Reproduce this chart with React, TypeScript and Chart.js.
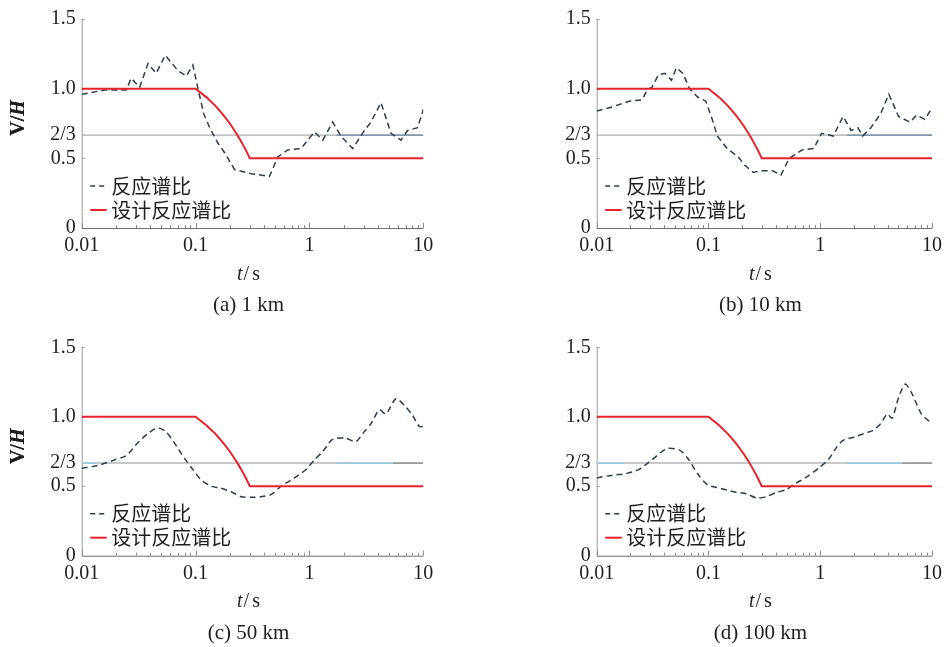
import React, { useEffect, useRef } from 'react';
import { Chart, registerables } from 'chart.js';

Chart.register(...registerables);

// ---------- data ----------
const xMajorTicks = [0.01, 0.1, 1, 10];
const xTickLabels = ['0.01', '0.1', '1', '10'];
const xMinorTicks = [0.02, 0.03, 0.04, 0.05, 0.06, 0.07, 0.08, 0.09, 0.2, 0.3, 0.4, 0.5, 0.6, 0.7, 0.8, 0.9, 2, 3, 4, 5, 6, 7, 8, 9];
const yTickValues = [0, 0.5, 2 / 3, 1.0, 1.5];
const yTickLabels = ['0', '0.5', '2/3', '1.0', '1.5'];
const legendLabels = ['反应谱比', '设计反应谱比'];
const captions = ['(a) 1 km', '(b) 10 km', '(c) 50 km', '(d) 100 km'];
const refValue = 2 / 3;

const designT = [0.01, 0.1, 0.125, 0.15, 0.175, 0.2, 0.225, 0.25, 0.275, 0.3, 10];
const designV = [1, 1, 0.9375, 0.875, 0.8125, 0.75, 0.6875, 0.625, 0.5625, 0.5, 0.5];

const periodsA = [0.01, 0.0159, 0.0246, 0.0272, 0.0323, 0.0382, 0.0451, 0.0541, 0.07, 0.0828, 0.0947, 0.105, 0.118, 0.133, 0.157, 0.18, 0.22, 0.308, 0.446, 0.527, 0.645, 0.844, 0.966, 1.107, 1.31, 1.6, 1.89, 2.4, 3.04, 3.47, 4.25, 5.2, 6.37, 7.28, 8.9, 10];
const ratioA = [0.96, 0.99, 0.99, 1.075, 1.01, 1.18, 1.11, 1.24, 1.13, 1.09, 1.17, 1.0, 0.82, 0.72, 0.61, 0.54, 0.42, 0.39, 0.37, 0.51, 0.56, 0.57, 0.63, 0.69, 0.63, 0.76, 0.66, 0.57, 0.7, 0.76, 0.9, 0.68, 0.63, 0.7, 0.72, 0.85];

const periodsB = [0.01, 0.0139, 0.0195, 0.0255, 0.0282, 0.0312, 0.0357, 0.0408, 0.0467, 0.0517, 0.0591, 0.0676, 0.08, 0.0947, 0.108, 0.12, 0.147, 0.185, 0.212, 0.251, 0.308, 0.376, 0.446, 0.527, 0.69, 0.874, 1.03, 1.31, 1.6, 1.89, 2.17, 2.4, 2.84, 3.47, 4.11, 5.03, 6.37, 7.28, 8.6, 10];
const ratioB = [0.84, 0.87, 0.91, 0.92, 0.99, 1.01, 1.1, 1.11, 1.06, 1.15, 1.11, 1.0, 0.94, 0.91, 0.78, 0.66, 0.57, 0.51, 0.45, 0.4, 0.41, 0.41, 0.38, 0.5, 0.56, 0.57, 0.68, 0.66, 0.8, 0.7, 0.72, 0.66, 0.72, 0.82, 0.96, 0.8, 0.76, 0.81, 0.78, 0.86];

const periodsC = [0.01, 0.0139, 0.0195, 0.0246, 0.0301, 0.0382, 0.0467, 0.0552, 0.0654, 0.08, 0.0947, 0.112, 0.137, 0.168, 0.205, 0.251, 0.308, 0.376, 0.46, 0.564, 0.738, 0.933, 1.107, 1.31, 1.55, 1.71, 2.09, 2.56, 2.94, 3.47, 4.11, 4.7, 5.75, 7.03, 8.05, 9.22, 10];
const ratioC = [0.63, 0.65, 0.69, 0.72, 0.8, 0.88, 0.92, 0.89, 0.81, 0.7, 0.62, 0.545, 0.5, 0.485, 0.46, 0.425, 0.42, 0.425, 0.44, 0.5, 0.56, 0.62, 0.69, 0.75, 0.83, 0.845, 0.845, 0.82, 0.88, 0.95, 1.05, 1.02, 1.13, 1.07, 1.01, 0.93, 0.93];

const periodsD = [0.01, 0.0139, 0.0182, 0.0238, 0.0312, 0.0422, 0.0552, 0.0654, 0.08, 0.098, 0.128, 0.168, 0.22, 0.269, 0.33, 0.403, 0.493, 0.604, 0.764, 0.966, 1.18, 1.4, 1.6, 2.03, 2.48, 2.94, 3.47, 3.97, 4.4, 5.03, 5.75, 6.58, 8.05, 10];
const ratioD = [0.56, 0.58, 0.59, 0.62, 0.69, 0.77, 0.76, 0.7, 0.59, 0.51, 0.485, 0.46, 0.445, 0.415, 0.425, 0.455, 0.475, 0.52, 0.57, 0.63, 0.69, 0.78, 0.83, 0.855, 0.88, 0.9, 0.95, 1.02, 0.99, 1.14, 1.235, 1.17, 1.02, 0.95];

// segments of the 2/3 reference line drawn in other colours [from, to]
const segRangesAB = [[1.73, 10]];
const segRangesC = [[0.01, 0.0135], [1.73, 5.4], [5.4, 10]];
const segRangesD = [[0.01, 0.0178], [1.73, 5.4], [5.4, 10]];

// ---------- layout / style ----------
const W = 948;
const H = 647;
const Y_AXIS_W = 80;
const X_AXIS_H = 90;
const SERIF = '"Liberation Serif", "Times New Roman", serif';
const CJK = '"Noto Sans CJK SC", sans-serif';
const TEXT = '#1e1e1e';
const RED = '#e8232b';
const DASH = '#2d3d50';

const panels = [
  { T: periodsA, V: ratioA, cap: captions[0], rect: [81.7, 423.3, 19, 228], tension: 0, segs: segRangesAB, segColors: ['#6f8aa6'], refColor: '#ababab', refW: 1.2 },
  { T: periodsB, V: ratioB, cap: captions[1], rect: [596.7, 938, 19, 228], tension: 0, segs: segRangesAB, segColors: ['#6f8aa6'], refColor: '#ababab', refW: 1.2 },
  { T: periodsC, V: ratioC, cap: captions[2], rect: [81.7, 423.3, 347.3, 555.7], tension: 0.25, segs: segRangesC, segColors: ['#8fcbe6', '#8fcbe6', '#8d8d8d'], refColor: '#c8c8c8', refW: 2 },
  { T: periodsD, V: ratioD, cap: captions[3], rect: [596.7, 938, 347.3, 555.7], tension: 0.25, segs: segRangesD, segColors: ['#8fcbe6', '#8fcbe6', '#8d8d8d'], refColor: '#c8c8c8', refW: 2 },
];

function drawPieces(ctx: CanvasRenderingContext2D, pieces: { t: string; f: string; gap?: number }[], cx: number, cy: number) {
  let total = 0;
  const widths = pieces.map((p) => {
    ctx.font = p.f;
    const w = ctx.measureText(p.t).width;
    total += w + (p.gap || 0);
    return w;
  });
  let x = cx - total / 2;
  pieces.forEach((p, i) => {
    ctx.font = p.f;
    ctx.fillText(p.t, x, cy);
    x += widths[i] + (p.gap || 0);
  });
}

function makeDecor(cap: string) {
  return {
    id: 'decor',
    beforeDatasetsDraw(chart: any) {
      const ctx = chart.ctx as CanvasRenderingContext2D;
      const ca = chart.chartArea;
      const xs = chart.scales.x;
      const ys = chart.scales.y;
      ctx.save();
      ctx.lineWidth = 1;
      // left axis
      ctx.strokeStyle = '#9a9a9a';
      ctx.beginPath();
      ctx.moveTo(ca.left + 0.5, ca.top);
      ctx.lineTo(ca.left + 0.5, ca.bottom);
      ctx.stroke();
      // y ticks
      [0.5, 1.0, 1.5].forEach((v) => {
        const y = Math.round(ys.getPixelForValue(v)) + 0.5;
        ctx.beginPath();
        ctx.moveTo(ca.left, y);
        ctx.lineTo(ca.left + 3, y);
        ctx.stroke();
      });
      // bottom axis
      ctx.strokeStyle = '#707070';
      ctx.beginPath();
      ctx.moveTo(ca.left, ca.bottom + 0.5);
      ctx.lineTo(ca.right, ca.bottom + 0.5);
      ctx.stroke();
      ctx.strokeStyle = '#8a8a8a';
      xMinorTicks.forEach((v) => {
        const x = Math.round(xs.getPixelForValue(v)) + 0.5;
        ctx.beginPath();
        ctx.moveTo(x, ca.bottom);
        ctx.lineTo(x, ca.bottom - 3);
        ctx.stroke();
      });
      xMajorTicks.forEach((v) => {
        const x = Math.round(xs.getPixelForValue(v)) + 0.5;
        ctx.beginPath();
        ctx.moveTo(x, ca.bottom);
        ctx.lineTo(x, ca.bottom - 5);
        ctx.stroke();
      });
      ctx.restore();
    },
    afterDraw(chart: any) {
      const ctx = chart.ctx as CanvasRenderingContext2D;
      const ca = chart.chartArea;
      const cx = (ca.left + ca.right) / 2 - 4;
      ctx.save();
      ctx.fillStyle = TEXT;
      ctx.textBaseline = 'middle';
      ctx.textAlign = 'left';
      // x title
      drawPieces(ctx, [
        { t: 't', f: `italic 20px ${SERIF}`, gap: 1 },
        { t: '/', f: `20px ${SERIF}`, gap: 3 },
        { t: 's', f: `20px ${SERIF}` },
      ], cx, ca.bottom + 46.5);
      // caption
      drawPieces(ctx, [{ t: cap, f: `21px ${SERIF}` }], cx, ca.bottom + 77.5);
      // y title
      ctx.save();
      ctx.translate(19, ca.top + 99);
      ctx.rotate(-Math.PI / 2);
      drawPieces(ctx, [
        { t: 'V/', f: `bold 20px ${SERIF}` },
        { t: 'H', f: `italic bold 20px ${SERIF}` },
      ], 0, 0);
      ctx.restore();
      // legend
      const y1 = ca.bottom - 42;
      const y2 = ca.bottom - 18;
      const lx0 = ca.left + 8.5;
      const lx1 = ca.left + 25;
      ctx.lineWidth = 1.5;
      ctx.strokeStyle = DASH;
      ctx.setLineDash([5, 4]);
      ctx.beginPath();
      ctx.moveTo(lx0, y1);
      ctx.lineTo(lx1, y1);
      ctx.stroke();
      ctx.setLineDash([]);
      ctx.lineWidth = 2;
      ctx.strokeStyle = RED;
      ctx.beginPath();
      ctx.moveTo(lx0, y2);
      ctx.lineTo(lx1, y2);
      ctx.stroke();
      ctx.font = `20px ${CJK}`;
      ctx.fillText(legendLabels[0], ca.left + 29.5, y1);
      ctx.fillText(legendLabels[1], ca.left + 29.5, y2);
      ctx.restore();
    },
  };
}

function Panel({ idx }: { idx: number }) {
  const ref = useRef<HTMLCanvasElement | null>(null);
  useEffect(() => {
    const p = panels[idx];
    const [pl, pr, pt, pb] = p.rect;
    const datasets: any[] = [];
    datasets.push({
      label: legendLabels[1],
      data: designT.map((t, i) => ({ x: t, y: designV[i] })),
      borderColor: RED,
      borderWidth: 2,
      pointRadius: 0,
      tension: 0,
    });
    datasets.push({
      label: legendLabels[0],
      data: p.T.map((t, i) => ({ x: t, y: p.V[i] })),
      borderColor: DASH,
      borderWidth: 1.5,
      borderDash: [6, 4],
      pointRadius: 0,
      tension: p.tension,
    });
    p.segs.forEach((s, i) => {
      datasets.push({
        label: 'seg' + i,
        data: [{ x: s[0], y: refValue }, { x: s[1], y: refValue }],
        borderColor: p.segColors[i],
        borderWidth: 1.3,
        pointRadius: 0,
      });
    });
    datasets.push({
      label: '2/3',
      data: [{ x: 0.01, y: refValue }, { x: 10, y: refValue }],
      borderColor: p.refColor,
      borderWidth: p.refW,
      pointRadius: 0,
    });
    const chart = new Chart(ref.current as HTMLCanvasElement, {
      type: 'line',
      data: { datasets },
      options: {
        responsive: false,
        animation: false,
        devicePixelRatio: 1,
        layout: {
          padding: {
            left: pl - Y_AXIS_W,
            right: W - pr,
            top: pt,
            bottom: H - pb - X_AXIS_H,
          },
        },
        plugins: {
          legend: { display: false },
          tooltip: { enabled: false },
          title: { display: false },
        },
        scales: {
          x: {
            type: 'logarithmic',
            min: 0.01,
            max: 10,
            grid: { display: false, drawTicks: false },
            border: { display: false },
            afterBuildTicks: (s: any) => {
              s.ticks = xMajorTicks.map((v) => ({ value: v }));
            },
            afterFit: (s: any) => {
              s.height = X_AXIS_H;
            },
            ticks: {
              autoSkip: false,
              maxRotation: 0,
              padding: 6,
              color: TEXT,
              font: { family: SERIF, size: 20 },
              callback: (_v: any, i: number) => xTickLabels[i],
            },
          },
          y: {
            type: 'linear',
            min: 0,
            max: 1.5,
            grid: { display: false, drawTicks: false },
            border: { display: false },
            afterBuildTicks: (s: any) => {
              s.ticks = yTickValues.map((v) => ({ value: v }));
            },
            afterFit: (s: any) => {
              s.width = Y_AXIS_W;
            },
            ticks: {
              autoSkip: false,
              padding: 6,
              color: TEXT,
              font: { family: SERIF, size: 20 },
              callback: (_v: any, i: number) => yTickLabels[i],
            },
          },
        },
      } as any,
      plugins: [makeDecor(p.cap)],
    });
    return () => chart.destroy();
  }, [idx]);
  return (
    <canvas
      ref={ref}
      width={W}
      height={H}
      style={{ position: 'absolute', left: 0, top: 0, width: W, height: H }}
    />
  );
}

export default function App() {
  return (
    <div style={{ position: 'absolute', left: 0, top: 0, width: W, height: H, overflow: 'hidden', background: '#ffffff' }}>
      {panels.map((_, i) => (
        <Panel key={i} idx={i} />
      ))}
    </div>
  );
}
